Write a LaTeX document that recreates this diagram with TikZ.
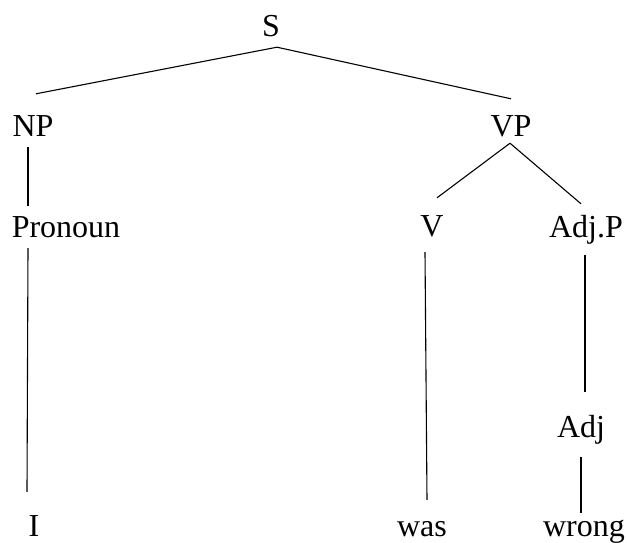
\documentclass[tikz,border=0pt]{standalone}
\usepackage{fontspec}
\setmainfont{Liberation Serif}
\usepackage{tikz}

\begin{document}
\begin{tikzpicture}[x=1pt,y=-1pt,
    word/.style={anchor=base, inner sep=0pt, text height=21pt, text depth=0pt,
                 font=\fontsize{32}{38}\selectfont},
    branch/.style={line width=1.1pt}]
                \useasboundingbox (0,0) rectangle (627,543);
                \node [word] (S) at (271,37) {S};
                \node [word] (NP) at (33,136) {NP};
                \node [word] (VP) at (511,136) {VP};
                \node [word] (Pronoun) at (66,237) {Pronoun};
                \node [word] (V) at (432,236) {V};
                \node [word] (AdjP) at (586,237) {Adj.P};
                \node [word] (Adj) at (581,437) {Adj};
                \node [word] (I) at (34,536) {I};
                \node [word] (was) at (422,536) {was};
                \node [word] (wrong) at (584,536) {wrong};
                \draw [branch] ([shift={(6,10)}]S.south) -- ([shift={(3,-21)}]NP.north);
                \draw [branch] ([shift={(6,10)}]S.south) -- ([shift={(0,-16)}]VP.north);
                \draw [branch] ([shift={(-5,11)}]NP.south) -- ([shift={(-38,-10)}]Pronoun.north);
                \draw [branch] ([shift={(-1,7)}]VP.south) -- ([shift={(5,-17)}]V.north);
                \draw [branch] ([shift={(-1,7)}]VP.south) -- ([shift={(-5,-12)}]AdjP.north);
                \draw [branch] ([shift={(-38,11)}]Pronoun.south) -- ([shift={(-7,-23)}]I.north);
                \draw [branch] ([shift={(-7,16)}]V.south) -- ([shift={(5,-15)}]was.north);
                \draw [branch] ([shift={(-1,18)}]AdjP.south) -- ([shift={(4,-24)}]Adj.north);
                \draw [branch] ([shift={(0,20)}]Adj.south) -- ([shift={(-3,-2)}]wrong.north);
            \end{tikzpicture}
\end{document}
